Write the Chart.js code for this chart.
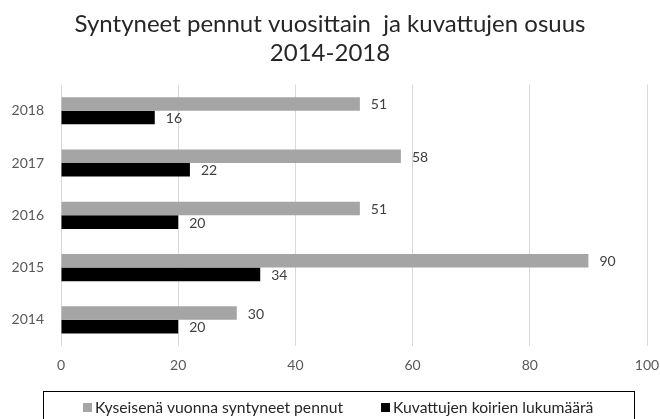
<!DOCTYPE html>
<html>
<head>
<meta charset="utf-8">
<script src="https://cdn.jsdelivr.net/npm/chart.js@4.4.0/dist/chart.umd.min.js"></script>
<style>
  html, body { margin: 0; padding: 0; background: #fff; }
  #wrap { width: 660px; height: 419px; }
</style>
</head>
<body>
<div id="wrap"><canvas id="kaavio"></canvas></div>
<script>
const vuodet = ['2018', '2017', '2016', '2015', '2014'];
const syntyneet = [51, 58, 51, 90, 30];
const kuvatut = [16, 22, 20, 34, 20];
const xAskeleet = [0, 20, 40, 60, 80, 100];

const fontti = 'Lato, "Open Sans", sans-serif';

// arvot palkkien perään
const arvoTekstit = {
  id: 'arvoTekstit',
  afterDatasetsDraw(chart) {
    const ctx = chart.ctx;
    ctx.save();
    ctx.font = '14px ' + fontti;
    ctx.fillStyle = '#404040';
    ctx.textBaseline = 'middle';
    ctx.textAlign = 'left';
    chart.data.datasets.forEach((ds, i) => {
      chart.getDatasetMeta(i).data.forEach((el, j) => {
        ctx.fillText(ds.data[j], el.x + 11, el.y + 1);
      });
    });
    ctx.restore();
  }
};

// selite laatikossa alareunassa
const selite = {
  id: 'selite',
  afterDraw(chart) {
    const ctx = chart.ctx;
    const a = chart.chartArea;
    ctx.save();
    ctx.strokeStyle = '#000';
    ctx.lineWidth = 1;
    ctx.strokeRect(a.left - 17.5, 391.5, a.right - a.left + 5, 40);
    ctx.font = '15.7px ' + fontti;
    ctx.textBaseline = 'middle';
    let x = a.left + 22;
    chart.data.datasets.forEach(ds => {
      ctx.fillStyle = ds.backgroundColor;
      ctx.fillRect(x, 403, 9, 9);
      ctx.fillStyle = '#262626';
      ctx.fillText(ds.label, x + 12, 408);
      x += 12 + ctx.measureText(ds.label).width + 38;
    });
    ctx.restore();
  }
};

new Chart(document.getElementById('kaavio').getContext('2d'), {
  type: 'bar',
  data: {
    labels: vuodet,
    datasets: [
      { label: 'Kyseisenä vuonna syntyneet pennut', data: syntyneet, backgroundColor: '#a5a5a5', barPercentage: 1, categoryPercentage: 0.52 },
      { label: 'Kuvattujen koirien lukumäärä', data: kuvatut, backgroundColor: '#000000', barPercentage: 1, categoryPercentage: 0.52 }
    ]
  },
  plugins: [arvoTekstit, selite],
  options: {
    indexAxis: 'y',
    responsive: true,
    maintainAspectRatio: false,
    animation: false,
    layout: { padding: { left: 0, right: 0, top: 0, bottom: 0 } },
    plugins: {
      legend: { display: false },
      tooltip: { enabled: false },
      title: {
        display: true,
        text: ['Syntyneet pennut vuosittain  ja kuvattujen osuus', '2014-2018'],
        color: '#262626',
        font: { family: fontti, size: 24, weight: 'normal', lineHeight: 1.2 },
        padding: { top: 10, bottom: 17 }
      }
    },
    scales: {
      x: {
        min: 0, max: 100,
        afterBuildTicks: s => { s.ticks = xAskeleet.map(v => ({ value: v })); },
        afterFit: s => { s.height = 73; s.paddingRight = 13; s.paddingLeft = 0; },
        grid: { color: '#d9d9d9', drawTicks: false },
        border: { display: false },
        ticks: { color: '#595959', font: { family: fontti, size: 14 }, padding: 11 }
      },
      y: {
        afterFit: s => { s.width = 61; },
        grid: { display: false, drawTicks: false },
        border: { display: false },
        ticks: { color: '#595959', font: { family: fontti, size: 14 }, padding: 17 }
      }
    }
  }
});
</script>
</body>
</html>
